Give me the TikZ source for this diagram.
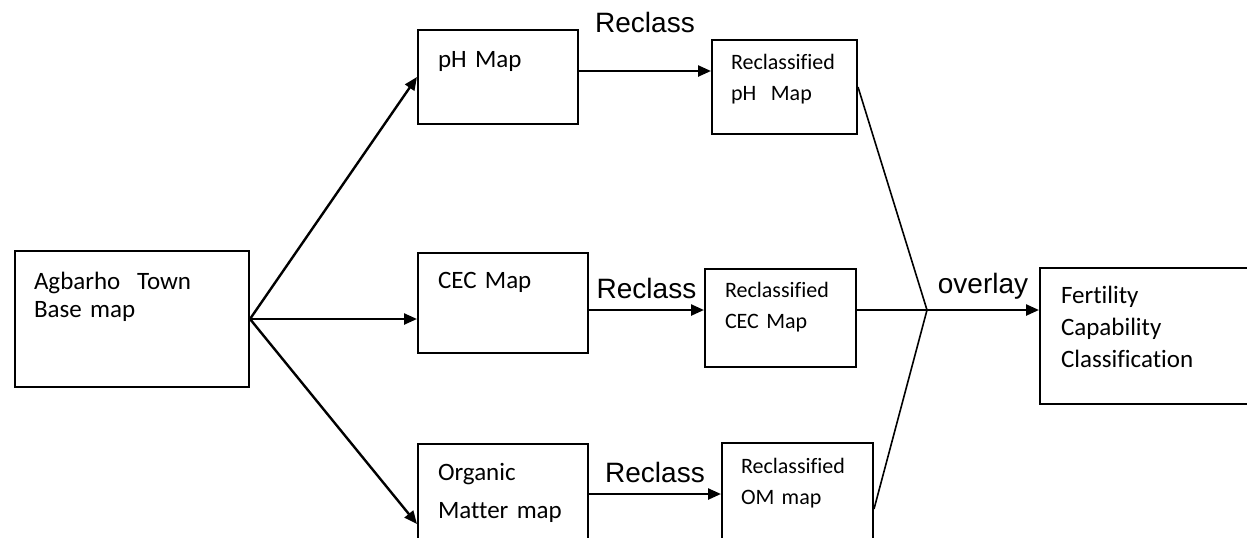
\documentclass[tikz,border=0pt]{standalone}
\usepackage{fontspec}
\setmainfont{Carlito}[Ligatures=NoCommon]
\newfontfamily\arialfont{Liberation Sans}
\usetikzlibrary{arrows.meta, positioning}

\tikzset{
  mapbox/.style={draw, line width=1pt, anchor=north west, align=left,
    inner ysep=0pt, inner xsep=10pt, font=\fontsize{12.5}{16}\selectfont},
  smallbox/.style={mapbox, font=\fontsize{11}{15.5}\selectfont},
  flow/.style={-{Triangle[length=6.5pt, width=5.5pt]}, line width=1.2pt},
  mergeline/.style={line width=0.8pt},
  steplabel/.style={font=\arialfont\fontsize{14}{16}\selectfont, above, yshift=1.5pt},
}

\begin{document}
\begin{tikzpicture}[x=0.5pt, y=-0.5pt]
  \useasboundingbox (0,0) rectangle (1247,537);
  \clip (0,0) rectangle (1247,537);

  % soil maps
  \node[mapbox, inner xsep=9.5pt, text width=98pt, text height=19pt, text depth=49pt,
        font=\fontsize{12.5}{14}\selectfont] (base) at (14,250) {Agbarho\ \ Town\\Base map};
  \node[mapbox, text width=60pt, text height=18.5pt, text depth=28.5pt] (ph) at (417,29) {pH Map};
  \node[mapbox, text width=65pt, text height=17.5pt, text depth=32.5pt] (cec) at (417,252) {CEC Map};
  \node[mapbox, text width=65pt, text height=18pt, text depth=62pt,
        font=\fontsize{12.5}{19}\selectfont] (om) at (417,443) {Organic\\Matter map};

  % reclassified maps
  \node[smallbox, inner xsep=9.5pt, text width=53.5pt, text height=14.5pt, text depth=32.5pt] (rph) at (711,39) {Reclassified\\pH\ \ Map};
  \node[smallbox, text width=55.5pt, text height=14pt, text depth=35pt] (rcec) at (704,268) {Reclassified\\CEC Map};
  \node[smallbox, inner xsep=9.5pt, text width=56.5pt, text height=15pt, text depth=51pt] (rom) at (721,442) {Reclassified\\OM map};

  % result
  \node[mapbox, inner xsep=10.5pt, text width=99pt, text height=17.5pt, text depth=50.5pt] (fcc) at (1039,267) {Fertility\\Capability\\Classification};

  \coordinate (merge) at (927,310);

  \draw[flow] (base.east) -- (ph.west);
  \draw[flow] (base.east) -- (base.east -| cec.west);
  \draw[flow] (base.east) -- (om.west);

  \draw[flow] ([yshift=3pt]ph.east) -- ([yshift=3pt]ph.east -| rph.west)
    node[steplabel, midway, yshift=13.5pt] {Reclass};
  \draw[flow] (cec.east |- merge) -- (rcec.west |- merge)
    node[steplabel, midway] {Reclass};
  \draw[flow] ([yshift=15pt]om.east) -- ([yshift=15pt]om.east -| rom.west)
    node[steplabel, midway] {Reclass};

  % overlay
  \draw[mergeline] (rph.east) -- (merge);
  \draw[mergeline] (rcec.east |- merge) -- (merge);
  \draw[mergeline] (rom.east) -- (merge);
  \draw[flow] (merge) -- (merge -| fcc.west) node[steplabel, midway] {overlay};
\end{tikzpicture}
\end{document}
